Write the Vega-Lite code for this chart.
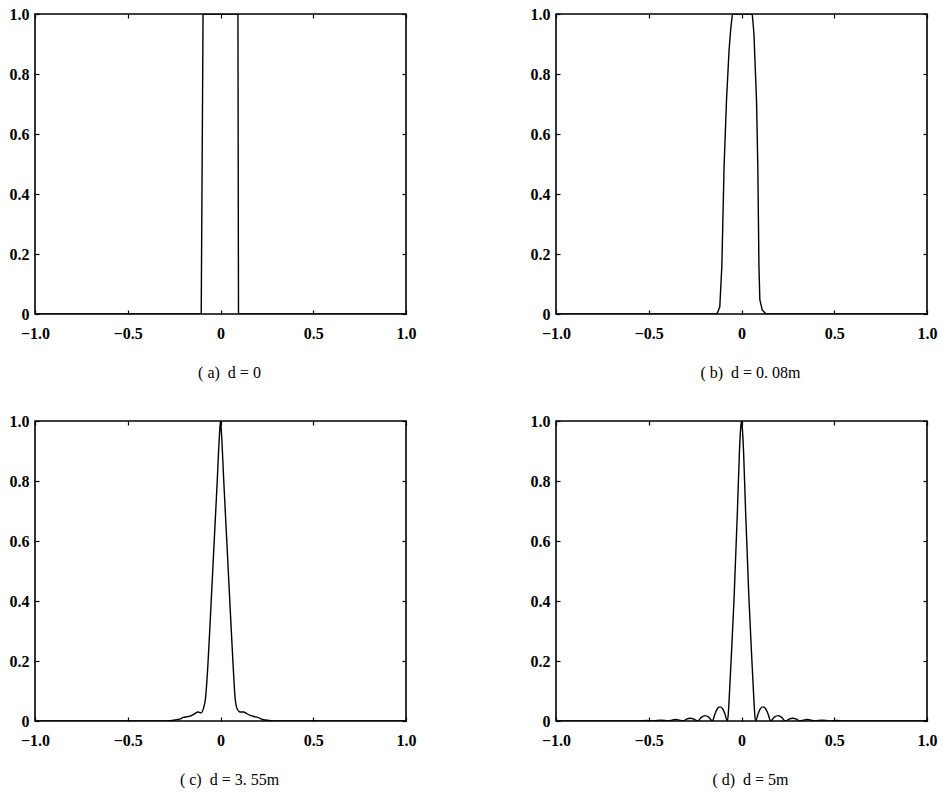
{
  "$schema": "https://vega.github.io/schema/vega-lite/v6.json",
  "background": "white",
  "padding": {"left": 8, "top": 5, "right": 5, "bottom": 5},
  "datasets": {
    "curves": [
      {"panel": "a", "x": -1, "y": 0}, {"panel": "a", "x": -0.104, "y": 0}, {"panel": "a", "x": -0.094, "y": 1},
      {"panel": "a", "x": 0.094, "y": 1}, {"panel": "a", "x": 0.097, "y": 0}, {"panel": "a", "x": 1, "y": 0},

      {"panel": "b", "x": -1, "y": 0}, {"panel": "b", "x": -0.14, "y": 0}, {"panel": "b", "x": -0.13, "y": 0.003},
      {"panel": "b", "x": -0.117, "y": 0.024}, {"panel": "b", "x": -0.106, "y": 0.16}, {"panel": "b", "x": -0.094, "y": 0.49},
      {"panel": "b", "x": -0.081, "y": 0.71}, {"panel": "b", "x": -0.067, "y": 0.88}, {"panel": "b", "x": -0.058, "y": 0.95},
      {"panel": "b", "x": -0.049, "y": 1}, {"panel": "b", "x": 0.058, "y": 1}, {"panel": "b", "x": 0.067, "y": 0.935},
      {"panel": "b", "x": 0.081, "y": 0.71}, {"panel": "b", "x": 0.088, "y": 0.49}, {"panel": "b", "x": 0.094, "y": 0.16},
      {"panel": "b", "x": 0.099, "y": 0.047}, {"panel": "b", "x": 0.112, "y": 0.013}, {"panel": "b", "x": 0.13, "y": 0.002},
      {"panel": "b", "x": 0.14, "y": 0}, {"panel": "b", "x": 1, "y": 0},

      {"panel": "c", "x": -1, "y": 0}, {"panel": "c", "x": -0.32, "y": 0}, {"panel": "c", "x": -0.26, "y": 0.002},
      {"panel": "c", "x": -0.22, "y": 0.006}, {"panel": "c", "x": -0.2, "y": 0.012}, {"panel": "c", "x": -0.18, "y": 0.014},
      {"panel": "c", "x": -0.16, "y": 0.017}, {"panel": "c", "x": -0.14, "y": 0.024}, {"panel": "c", "x": -0.122, "y": 0.03},
      {"panel": "c", "x": -0.105, "y": 0.027}, {"panel": "c", "x": -0.092, "y": 0.042}, {"panel": "c", "x": -0.081, "y": 0.075},
      {"panel": "c", "x": -0.068, "y": 0.186}, {"panel": "c", "x": -0.054, "y": 0.352}, {"panel": "c", "x": -0.036, "y": 0.574},
      {"panel": "c", "x": -0.018, "y": 0.795}, {"panel": "c", "x": -0.006, "y": 0.95}, {"panel": "c", "x": 0, "y": 1},
      {"panel": "c", "x": 0.006, "y": 0.95}, {"panel": "c", "x": 0.018, "y": 0.795}, {"panel": "c", "x": 0.036, "y": 0.574},
      {"panel": "c", "x": 0.054, "y": 0.352}, {"panel": "c", "x": 0.068, "y": 0.186}, {"panel": "c", "x": 0.079, "y": 0.075},
      {"panel": "c", "x": 0.09, "y": 0.04}, {"panel": "c", "x": 0.105, "y": 0.03}, {"panel": "c", "x": 0.125, "y": 0.03},
      {"panel": "c", "x": 0.14, "y": 0.025}, {"panel": "c", "x": 0.16, "y": 0.019}, {"panel": "c", "x": 0.18, "y": 0.015},
      {"panel": "c", "x": 0.2, "y": 0.012}, {"panel": "c", "x": 0.227, "y": 0.005}, {"panel": "c", "x": 0.26, "y": 0.002},
      {"panel": "c", "x": 0.32, "y": 0}, {"panel": "c", "x": 1, "y": 0},

      {"panel": "d", "x": -1, "y": 0}, {"panel": "d", "x": -0.553, "y": 0}, {"panel": "d", "x": -0.514, "y": 0.002},
      {"panel": "d", "x": -0.474, "y": 0}, {"panel": "d", "x": -0.435, "y": 0.003}, {"panel": "d", "x": -0.395, "y": 0},
      {"panel": "d", "x": -0.375, "y": 0.003}, {"panel": "d", "x": -0.355, "y": 0.005}, {"panel": "d", "x": -0.335, "y": 0.003},
      {"panel": "d", "x": -0.315, "y": 0}, {"panel": "d", "x": -0.296, "y": 0.006}, {"panel": "d", "x": -0.276, "y": 0.009},
      {"panel": "d", "x": -0.256, "y": 0.006}, {"panel": "d", "x": -0.236, "y": 0}, {"panel": "d", "x": -0.217, "y": 0.012},
      {"panel": "d", "x": -0.197, "y": 0.018}, {"panel": "d", "x": -0.177, "y": 0.013}, {"panel": "d", "x": -0.157, "y": 0},
      {"panel": "d", "x": -0.144, "y": 0.022}, {"panel": "d", "x": -0.131, "y": 0.04}, {"panel": "d", "x": -0.117, "y": 0.047},
      {"panel": "d", "x": -0.103, "y": 0.042}, {"panel": "d", "x": -0.09, "y": 0.025}, {"panel": "d", "x": -0.076, "y": 0},
      {"panel": "d", "x": -0.071, "y": 0.025}, {"panel": "d", "x": -0.066, "y": 0.08}, {"panel": "d", "x": -0.057, "y": 0.19},
      {"panel": "d", "x": -0.04, "y": 0.41}, {"panel": "d", "x": -0.022, "y": 0.7}, {"panel": "d", "x": -0.011, "y": 0.9},
      {"panel": "d", "x": -0.004, "y": 0.98}, {"panel": "d", "x": 0, "y": 1}, {"panel": "d", "x": 0.004, "y": 0.98},
      {"panel": "d", "x": 0.011, "y": 0.9}, {"panel": "d", "x": 0.022, "y": 0.7}, {"panel": "d", "x": 0.04, "y": 0.41},
      {"panel": "d", "x": 0.057, "y": 0.19}, {"panel": "d", "x": 0.066, "y": 0.08}, {"panel": "d", "x": 0.071, "y": 0.025},
      {"panel": "d", "x": 0.076, "y": 0}, {"panel": "d", "x": 0.09, "y": 0.025}, {"panel": "d", "x": 0.103, "y": 0.042},
      {"panel": "d", "x": 0.117, "y": 0.047}, {"panel": "d", "x": 0.131, "y": 0.04}, {"panel": "d", "x": 0.144, "y": 0.022},
      {"panel": "d", "x": 0.157, "y": 0}, {"panel": "d", "x": 0.177, "y": 0.013}, {"panel": "d", "x": 0.197, "y": 0.018},
      {"panel": "d", "x": 0.217, "y": 0.012}, {"panel": "d", "x": 0.236, "y": 0}, {"panel": "d", "x": 0.256, "y": 0.006},
      {"panel": "d", "x": 0.276, "y": 0.009}, {"panel": "d", "x": 0.296, "y": 0.006}, {"panel": "d", "x": 0.315, "y": 0},
      {"panel": "d", "x": 0.335, "y": 0.003}, {"panel": "d", "x": 0.355, "y": 0.005}, {"panel": "d", "x": 0.375, "y": 0.003},
      {"panel": "d", "x": 0.395, "y": 0}, {"panel": "d", "x": 0.435, "y": 0.003}, {"panel": "d", "x": 0.474, "y": 0},
      {"panel": "d", "x": 0.514, "y": 0.002}, {"panel": "d", "x": 0.553, "y": 0}, {"panel": "d", "x": 1, "y": 0}
    ]
  },
  "columns": 2,
  "bounds": "flush",
  "spacing": {"row": 107, "column": 150},
  "concat": [
    {
      "width": 371, "height": 300,
      "data": {"name": "curves"},
      "transform": [{"filter": "datum.panel === 'a'"}],
      "layer": [
        {"mark": {"type": "line", "color": "black", "strokeWidth": 1.4, "clip": true},
         "encoding": {
           "x": {"field": "x", "type": "quantitative", "scale": {"domain": [-1, 1], "nice": false},
                 "axis": {"orient": "bottom", "values": [-1, -0.5, 0, 0.5, 1], "labelExpr": "datum.value === 0 ? '0' : format(datum.value, '.1f')", "title": "( a)\u00a0\u00a0d\u00a0=\u00a00"}},
           "y": {"field": "y", "type": "quantitative", "scale": {"domain": [0, 1], "nice": false},
                 "axis": {"orient": "left", "values": [0, 0.2, 0.4, 0.6, 0.8, 1], "labelExpr": "datum.value === 0 ? '0' : format(datum.value, '.1f')", "title": null}}
         }},
        {"mark": {"type": "line", "opacity": 0},
         "encoding": {
           "x": {"field": "x", "type": "quantitative", "axis": {"orient": "top", "values": [-1, -0.5, 0, 0.5, 1], "labels": false, "title": null}},
           "y": {"field": "y", "type": "quantitative", "axis": {"orient": "right", "values": [0, 0.2, 0.4, 0.6, 0.8, 1], "labels": false, "title": null}}
         }}
      ],
      "resolve": {"axis": {"x": "independent", "y": "independent"}}
    },
    {
      "width": 371, "height": 300,
      "data": {"name": "curves"},
      "transform": [{"filter": "datum.panel === 'b'"}],
      "layer": [
        {"mark": {"type": "line", "color": "black", "strokeWidth": 1.4, "clip": true},
         "encoding": {
           "x": {"field": "x", "type": "quantitative", "scale": {"domain": [-1, 1], "nice": false},
                 "axis": {"orient": "bottom", "values": [-1, -0.5, 0, 0.5, 1], "labelExpr": "datum.value === 0 ? '0' : format(datum.value, '.1f')", "title": "( b)\u00a0\u00a0d\u00a0=\u00a00.\u00a008m"}},
           "y": {"field": "y", "type": "quantitative", "scale": {"domain": [0, 1], "nice": false},
                 "axis": {"orient": "left", "values": [0, 0.2, 0.4, 0.6, 0.8, 1], "labelExpr": "datum.value === 0 ? '0' : format(datum.value, '.1f')", "title": null}}
         }},
        {"mark": {"type": "line", "opacity": 0},
         "encoding": {
           "x": {"field": "x", "type": "quantitative", "axis": {"orient": "top", "values": [-1, -0.5, 0, 0.5, 1], "labels": false, "title": null}},
           "y": {"field": "y", "type": "quantitative", "axis": {"orient": "right", "values": [0, 0.2, 0.4, 0.6, 0.8, 1], "labels": false, "title": null}}
         }}
      ],
      "resolve": {"axis": {"x": "independent", "y": "independent"}}
    },
    {
      "width": 371, "height": 300,
      "data": {"name": "curves"},
      "transform": [{"filter": "datum.panel === 'c'"}],
      "layer": [
        {"mark": {"type": "line", "color": "black", "strokeWidth": 1.4, "clip": true, "interpolate": "monotone"},
         "encoding": {
           "x": {"field": "x", "type": "quantitative", "scale": {"domain": [-1, 1], "nice": false},
                 "axis": {"orient": "bottom", "values": [-1, -0.5, 0, 0.5, 1], "labelExpr": "datum.value === 0 ? '0' : format(datum.value, '.1f')", "title": "( c)\u00a0\u00a0d\u00a0=\u00a03.\u00a055m"}},
           "y": {"field": "y", "type": "quantitative", "scale": {"domain": [0, 1], "nice": false},
                 "axis": {"orient": "left", "values": [0, 0.2, 0.4, 0.6, 0.8, 1], "labelExpr": "datum.value === 0 ? '0' : format(datum.value, '.1f')", "title": null}}
         }},
        {"mark": {"type": "line", "opacity": 0},
         "encoding": {
           "x": {"field": "x", "type": "quantitative", "axis": {"orient": "top", "values": [-1, -0.5, 0, 0.5, 1], "labels": false, "title": null}},
           "y": {"field": "y", "type": "quantitative", "axis": {"orient": "right", "values": [0, 0.2, 0.4, 0.6, 0.8, 1], "labels": false, "title": null}}
         }}
      ],
      "resolve": {"axis": {"x": "independent", "y": "independent"}}
    },
    {
      "width": 371, "height": 300,
      "data": {"name": "curves"},
      "transform": [{"filter": "datum.panel === 'd'"}],
      "layer": [
        {"mark": {"type": "line", "color": "black", "strokeWidth": 1.4, "clip": true, "interpolate": "monotone"},
         "encoding": {
           "x": {"field": "x", "type": "quantitative", "scale": {"domain": [-1, 1], "nice": false},
                 "axis": {"orient": "bottom", "values": [-1, -0.5, 0, 0.5, 1], "labelExpr": "datum.value === 0 ? '0' : format(datum.value, '.1f')", "title": "( d)\u00a0\u00a0d\u00a0=\u00a05m"}},
           "y": {"field": "y", "type": "quantitative", "scale": {"domain": [0, 1], "nice": false},
                 "axis": {"orient": "left", "values": [0, 0.2, 0.4, 0.6, 0.8, 1], "labelExpr": "datum.value === 0 ? '0' : format(datum.value, '.1f')", "title": null}}
         }},
        {"mark": {"type": "line", "opacity": 0},
         "encoding": {
           "x": {"field": "x", "type": "quantitative", "axis": {"orient": "top", "values": [-1, -0.5, 0, 0.5, 1], "labels": false, "title": null}},
           "y": {"field": "y", "type": "quantitative", "axis": {"orient": "right", "values": [0, 0.2, 0.4, 0.6, 0.8, 1], "labels": false, "title": null}}
         }}
      ],
      "resolve": {"axis": {"x": "independent", "y": "independent"}}
    }
  ],
  "config": {
    "view": {"stroke": "black", "strokeWidth": 1.6},
    "axis": {
      "domain": false, "grid": false,
      "ticks": true, "tickSize": -4, "tickColor": "black", "tickWidth": 1.2,
      "labelFont": "Liberation Serif", "labelFontSize": 16, "labelFontWeight": "bold", "labelColor": "black",
      "labelPadding": 10, "labelFlush": false, "labelOverlap": false,
      "titleFont": "Liberation Serif", "titleFontSize": 16, "titleFontWeight": "normal", "titleColor": "black",
      "titlePadding": 23, "titleX": 194
    },
    "axisX": {"labelPadding": 15},
    "axisY": {"titleX": 0}
  }
}
